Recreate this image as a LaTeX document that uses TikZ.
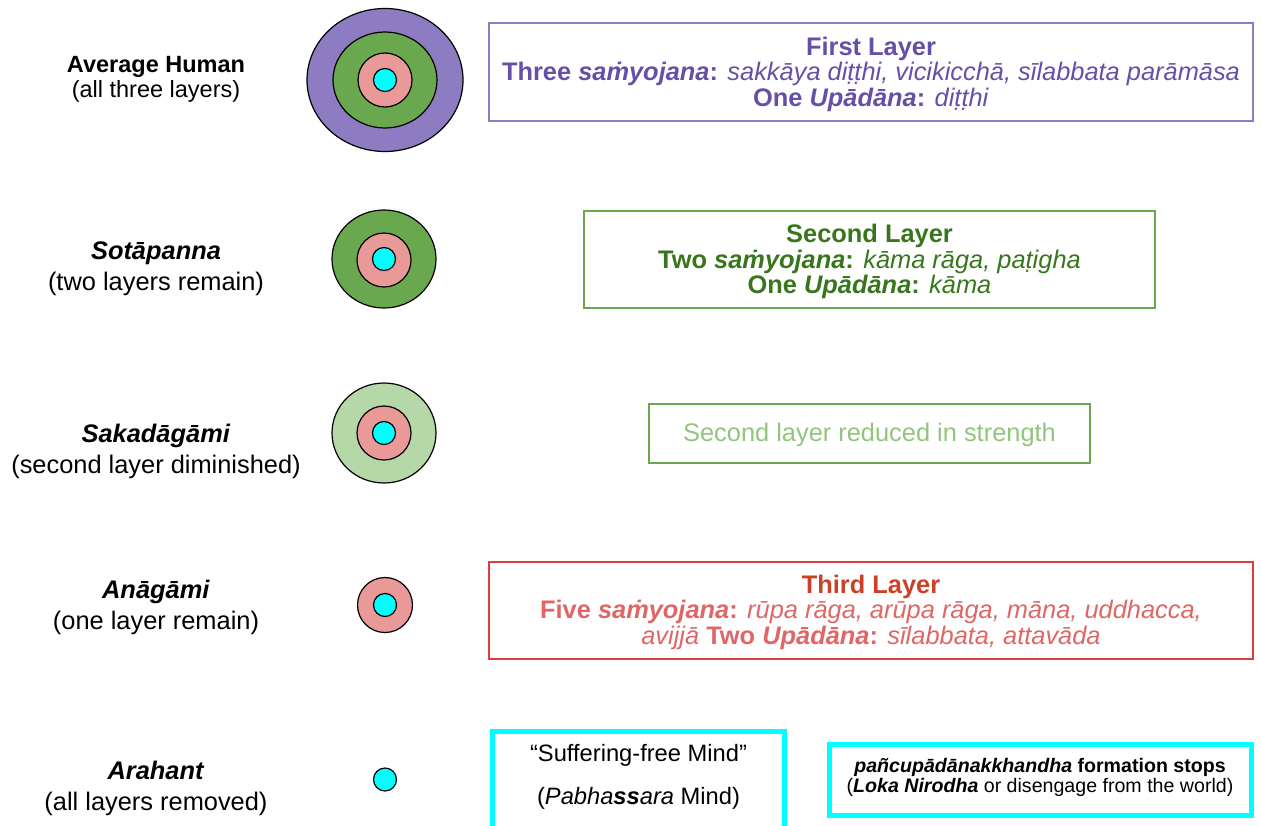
\documentclass[tikz,border=0pt]{standalone}
\usepackage{fontspec}
\setmainfont{Liberation Sans}
\usepackage{xcolor}
\usetikzlibrary{positioning}

\definecolor{purpfill}{HTML}{8E7CC3}
\definecolor{purptext}{HTML}{674EA7}
\definecolor{greenfill}{HTML}{6AA84F}
\definecolor{greentext}{HTML}{38761D}
\definecolor{lightgreen}{HTML}{B6D7A8}
\definecolor{lgtext}{HTML}{93C47D}
\definecolor{pinkfill}{HTML}{EA9999}
\definecolor{redtitle}{HTML}{CC4125}
\definecolor{redtext}{HTML}{E06666}
\definecolor{redline}{HTML}{E03C3C}
\definecolor{aqua}{HTML}{00FFFF}

\newcommand{\bi}[1]{\textbf{\textit{#1}}}

\tikzset{
 ring/.style={draw=black,line width=1.2pt},
 layerbox/.style={draw,line width=1.5pt,inner sep=0pt},
 purebox/.style={draw=aqua,line width=5pt,inner sep=0pt},
 boxtext/.style={align=center,inner sep=0pt},
 stage/.style={align=center,font=\fontsize{25.4}{31}\selectfont},
}

\begin{document}
\begin{tikzpicture}[x=1pt,y=-1pt,font=\fontsize{25.4}{25.5}\selectfont]
 \useasboundingbox (0,0) rectangle (1261,825);
 % average human
 \filldraw[ring,fill=purpfill] (385,80) ellipse (78 and 71.5);
 \filldraw[ring,fill=greenfill] (385,80) ellipse (52 and 48);
 \filldraw[ring,fill=pinkfill] (385,80) circle (27);
 \filldraw[ring,fill=aqua] (385,80) circle (11.5);
 % sotapanna
 \filldraw[ring,fill=greenfill] (384,259) ellipse (52 and 49);
 \filldraw[ring,fill=pinkfill] (384,260) circle (27);
 \filldraw[ring,fill=aqua] (384,259) circle (11.5);
 % sakadagami
 \filldraw[ring,fill=lightgreen] (384,433) ellipse (52 and 50);
 \filldraw[ring,fill=pinkfill] (384,433) circle (27);
 \filldraw[ring,fill=aqua] (384,433) circle (11.5);
 % anagami
 \filldraw[ring,fill=pinkfill] (385,605) circle (27.5);
 \filldraw[ring,fill=aqua] (385,605) circle (11.5);
 % arahant
 \filldraw[ring,fill=aqua] (385,779.5) circle (11.5);
 % stages
 \node[stage,font=\fontsize{23.5}{25}\selectfont] (avg) at (156,79) {\textbf{Average Human}\\(all three layers)};
 \node[stage] (sota) at (156,268.5) {\bi{Sotāpanna}\\(two layers remain)};
 \node[stage] (saka) at (156,451.5) {\bi{Sakadāgāmi}\\(second layer diminished)};
 \node[stage] (ana) at (156,607.5) {\bi{Anāgāmi}\\(one layer remain)};
 \node[stage] (ara) at (156,788) {\bi{Arahant}\\(all layers removed)};
 % first layer
 \node[layerbox,draw=purpfill,minimum width=764pt,minimum height=98pt] (first) at (871,72) {};
 \node[boxtext,text=purptext] (firsttxt) at ([yshift=-2pt]first.center)
  {\textbf{First Layer}\\
   \textbf{Three \textit{saṁyojana}:} \textit{sakkāya diṭṭhi, vicikicchā, sīlabbata parāmāsa}\\
   \textbf{One \textit{Upādāna}:} \textit{diṭṭhi}};
 % second layer
 \node[layerbox,draw=greenfill,minimum width=571pt,minimum height=97pt] (second) at (869.5,259.5) {};
 \node[boxtext,text=greentext] (secondtxt) at ([yshift=-2pt]second.center)
  {\textbf{Second Layer}\\
   \textbf{Two \textit{saṁyojana}:} \textit{kāma rāga, paṭigha}\\
   \textbf{One \textit{Upādāna}:} \textit{kāma}};
 % weakened second layer
 \node[layerbox,draw=greenfill,minimum width=441pt,minimum height=59pt] (weak) at (869.5,433.5) {};
 \node[boxtext,text=lgtext] (weaktxt) at ([yshift=-1pt]weak.center) {Second layer reduced in strength};
 % third layer
 \node[layerbox,draw=redline,minimum width=764pt,minimum height=97pt] (third) at (871,610.5) {};
 \node[boxtext,text=redtext] (thirdtxt) at ([yshift=-1.5pt]third.center)
  {\textcolor{redtitle}{\textbf{Third Layer}}\\
   \textbf{Five \textit{saṁyojana}:} \textit{rūpa rāga, arūpa rāga, māna, uddhacca,}\\
   \textit{avijjā} \textbf{Two \textit{Upādāna}:} \textit{sīlabbata, attavāda}};
 % pure mind
 \node[purebox,minimum width=292pt,minimum height=100pt] (pure) at (638.5,781.5) {};
 \node[boxtext,font=\fontsize{23.7}{43}\selectfont] (mind) at (638.5,777)
  {“Suffering-free Mind”\\(\textit{Pabha}\bi{ss}\textit{ara} Mind)};
 \node[purebox,minimum width=422pt,minimum height=71.5pt] (stops) at (1040,779.75) {};
 \node[boxtext,font=\fontsize{19.6}{20}\selectfont] (stopstxt) at ([yshift=2pt]stops.center)
  {\bi{pañcupādānakkhandha} \textbf{formation stops}\\
   (\bi{Loka Nirodha} or disengage from the world)};
\end{tikzpicture}
\end{document}
